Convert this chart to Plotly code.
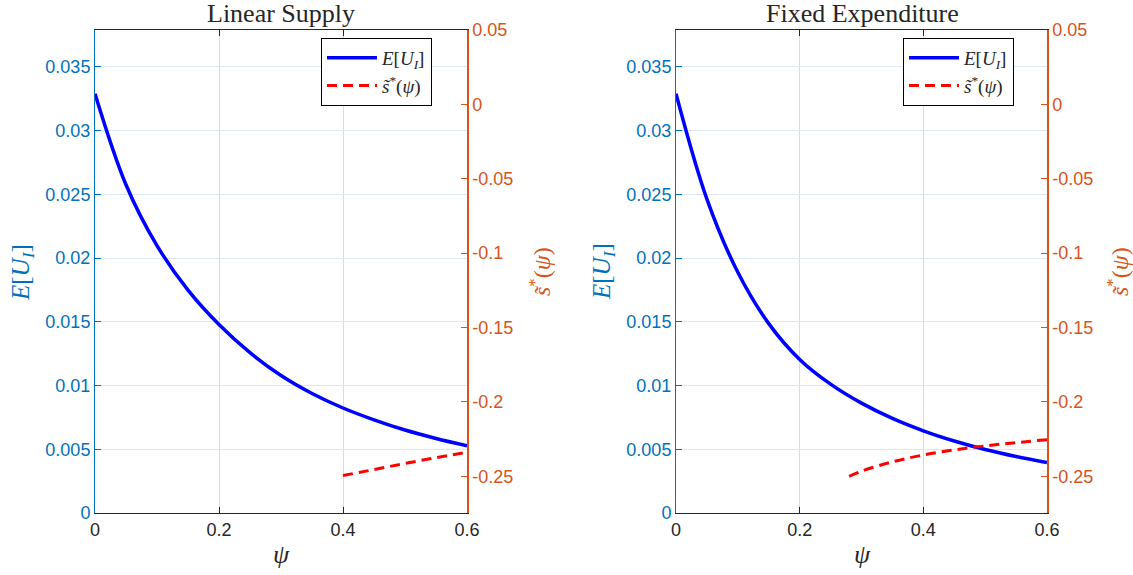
import plotly.graph_objects as go

# ---------------- data ----------------
psi = [0.0, 0.05, 0.1, 0.15, 0.2, 0.25, 0.3, 0.35, 0.4, 0.45, 0.5, 0.55, 0.6]
eu_linear = [0.0329, 0.02576, 0.02098, 0.01749, 0.01479, 0.01258, 0.01079, 0.00938,
             0.00824, 0.00731, 0.00651, 0.00585, 0.00528]
eu_fixed = [0.0329, 0.02463, 0.01889, 0.01486, 0.01205, 0.01011, 0.00862, 0.00742,
            0.00645, 0.00565, 0.00498, 0.00443, 0.00396]

psi_s_linear = [0.4, 0.45, 0.5, 0.55, 0.6]
s_linear = [-0.2495, -0.2455, -0.2414, -0.2375, -0.2339]
psi_s_fixed = [0.28, 0.3, 0.35, 0.4, 0.45, 0.5, 0.55, 0.6]
s_fixed = [-0.2500, -0.2466, -0.2403, -0.2357, -0.2323, -0.2296, -0.2274, -0.2254]

titles = ["Linear Supply", "Fixed Expenditure"]
x_ticks = [0, 0.2, 0.4, 0.6]
x_ticktext = ["0", "0.2", "0.4", "0.6"]
yl_ticks = [0, 0.005, 0.01, 0.015, 0.02, 0.025, 0.03, 0.035]
yl_ticktext = ["0", "0.005", "0.01", "0.015", "0.02", "0.025", "0.03", "0.035"]
yr_ticks = [0.05, 0, -0.05, -0.1, -0.15, -0.2, -0.25]
yr_ticktext = ["0.05", "0", "-0.05", "-0.1", "-0.15", "-0.2", "-0.25"]

# ---------------- style ----------------
W, H = 1133, 575
BLUE_AX = "#0072BD"
ORANGE_AX = "#D95319"
DARK = "#262626"
TICKFONT = "Liberation Sans, Arial, sans-serif"
SERIF = "Liberation Serif, Times New Roman, serif"

y0 = (H - 513) / H
y1 = (H - 30) / H
dom_left = [95 / W, 467 / W]
dom_right = [676 / W, 1047 / W]

fig = go.Figure()

panels = [
    (eu_linear, psi_s_linear, s_linear, "x", "y", "y2", "legend"),
    (eu_fixed, psi_s_fixed, s_fixed, "x2", "y3", "y4", "legend2"),
]
for i, (eu, ps, s, xa, ya, yb, lg) in enumerate(panels):
    fig.add_trace(go.Scatter(
        x=psi, y=eu, mode="lines",
        line=dict(color="#0000FF", width=3.5, shape="spline", smoothing=1.0),
        name="<i>E</i>[<i>U<sub>I</sub></i>]", xaxis=xa, yaxis=ya, legend=lg,
        legendgroup=f"a{i}"))
    fig.add_trace(go.Scatter(
        x=ps, y=s, mode="lines",
        line=dict(color="#FF0000", width=3, dash="10px,6px", shape="spline"),
        name="<i>s̃</i><sup>*</sup>(<i>ψ</i>)", xaxis=xa, yaxis=yb, legend=lg,
        legendgroup=f"b{i}"))

def xaxis(domain, anchor):
    return dict(domain=domain, anchor=anchor, range=[0, 0.6], automargin=False,
                tickvals=x_ticks, ticktext=x_ticktext,
                ticks="inside", ticklen=6, tickcolor=DARK, tickwidth=1,
                showline=True, linecolor=DARK, linewidth=1, mirror="ticks",
                showgrid=True, gridcolor="#dcdcdc", gridwidth=1, zeroline=False,
                tickfont=dict(family=TICKFONT, size=18, color=DARK))

def yleft(anchor):
    return dict(domain=[y0, y1], anchor=anchor, range=[0, 0.0379], automargin=False,
                tickvals=yl_ticks, ticktext=yl_ticktext,
                ticks="inside", ticklen=6, tickcolor=BLUE_AX,
                showline=True, linecolor=BLUE_AX, linewidth=1,
                showgrid=True, gridcolor="#dbe8f3", gridwidth=1, zeroline=False,
                tickfont=dict(family=TICKFONT, size=18, color=BLUE_AX))

def yright(anchor, overlay):
    return dict(anchor=anchor, overlaying=overlay, side="right", range=[-0.2747, 0.05],
                automargin=False, tickvals=yr_ticks, ticktext=yr_ticktext,
                ticks="inside", ticklen=6, tickcolor=ORANGE_AX,
                showline=True, linecolor=ORANGE_AX, linewidth=1.5,
                showgrid=False, zeroline=False,
                tickfont=dict(family=TICKFONT, size=18, color=ORANGE_AX))

legend_common = dict(bgcolor="white", bordercolor="#000000", borderwidth=1,
                     font=dict(family=SERIF, size=19, color=DARK),
                     xanchor="right", yanchor="top", y=1 - 38 / H,
                     traceorder="grouped", tracegroupgap=0, itemwidth=50)

fig.update_layout(
    width=W, height=H, margin=dict(l=0, r=0, t=0, b=0, autoexpand=False),
    paper_bgcolor="white", plot_bgcolor="white",
    xaxis=xaxis(dom_left, "y"),
    yaxis=yleft("x"),
    yaxis2=yright("x", "y"),
    xaxis2=xaxis(dom_right, "y3"),
    yaxis3=yleft("x2"),
    yaxis4=yright("x2", "y3"),
    legend=dict(x=432 / W, **legend_common),
    legend2=dict(x=1014 / W, **legend_common),
)

ann = []
for cx, t, lx, rx in [(281, titles[0], 22, 540), (862, titles[1], 603, 1118)]:
    ann.append(dict(text=t, x=cx / W, y=1 - 13 / H, xref="paper", yref="paper",
                    showarrow=False, xanchor="center", yanchor="middle",
                    font=dict(family=SERIF, size=26, color=DARK)))
    ann.append(dict(text="<i>ψ</i>", x=cx / W, y=1 - 554 / H, xref="paper", yref="paper",
                    showarrow=False, xanchor="center", yanchor="middle",
                    font=dict(family=SERIF, size=26, color=DARK)))
    ann.append(dict(text="<i>E</i>[<i>U<sub>I</sub></i>]", x=lx / W, y=1 - 272 / H,
                    xref="paper", yref="paper", showarrow=False, textangle=-90,
                    xanchor="center", yanchor="middle",
                    font=dict(family=SERIF, size=25, color=BLUE_AX)))
    ann.append(dict(text="<i>s̃</i><sup>*</sup>(<i>ψ</i>)", x=rx / W, y=1 - 272 / H,
                    xref="paper", yref="paper", showarrow=False, textangle=-90,
                    xanchor="center", yanchor="middle",
                    font=dict(family=SERIF, size=24, color=ORANGE_AX)))
fig.update_layout(annotations=ann)

fig.write_html("out.html", config={"displayModeBar": False},
               post_script="document.body.style.margin='0px';")
